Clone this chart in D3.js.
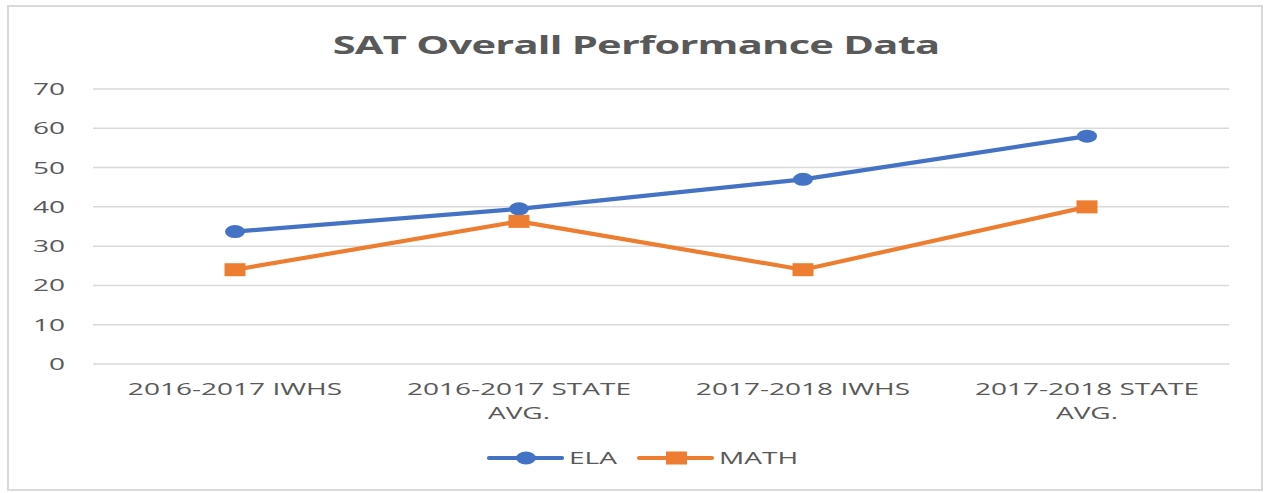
<!DOCTYPE html>
<html>
<head>
<meta charset="utf-8">
<script src="https://cdn.jsdelivr.net/npm/d3@7"></script>
<style>
  html, body { margin: 0; padding: 0; background: #fff; }
  text { font-family: "Open Sans", "DejaVu Sans", sans-serif; fill: #595959; }
</style>
</head>
<body>
<div id="chart"></div>
<script>
// data
var categories = [["2016-2017 IWHS"], ["2016-2017 STATE", "AVG."], ["2017-2018 IWHS"], ["2017-2018 STATE", "AVG."]];
var ela = [33.7, 39.5, 47, 58];
var math = [24, 36.3, 24, 40];
var yTicks = [0, 10, 20, 30, 40, 50, 60, 70];
var seriesNames = ["ELA", "MATH"];
var colors = ["#4472C4", "#ED7D31"];

var width = 1268, height = 493;
var sx = 1.7; // the source picture is stretched sideways

var svg = d3.select("#chart").append("svg")
            .attr("width", width)
            .attr("height", height);

// outer frame
svg.append("rect")
   .attr("x", 8).attr("y", 6)
   .attr("width", 1254).attr("height", 484)
   .attr("fill", "#fff")
   .attr("stroke", "#d9d9d9")
   .attr("stroke-width", 2);

var keys = categories.map(function(d) { return d.join(" "); });

var xScale = d3.scalePoint()
               .domain(keys)
               .range([93, 1229])
               .padding(0.5);

var yScale = d3.scaleLinear()
               .domain([0, 70])
               .range([364, 89]);

// stretched text helper
function stext(g, x, y, str, size, anchor, weight) {
  return g.append("text")
          .attr("transform", "translate(" + x + "," + y + ") scale(" + sx + ",1)")
          .attr("text-anchor", anchor)
          .style("font-size", size + "px")
          .style("font-weight", weight || "normal")
          .text(str);
}

// title
stext(svg, 636, 54, "SAT Overall Performance Data", 24.5, "middle", "bold")
  .style("letter-spacing", "-0.45px");

// gridlines
svg.append("g").selectAll("line")
   .data(yTicks)
   .enter()
   .append("line")
   .attr("x1", 93).attr("x2", 1229)
   .attr("y1", function(d) { return yScale(d); })
   .attr("y2", function(d) { return yScale(d); })
   .attr("stroke", "#d9d9d9")
   .attr("stroke-width", 1.5);

// y labels
var yl = svg.append("g");
yTicks.forEach(function(t) {
  stext(yl, 65, yScale(t) + 6, t, 16.5, "end");
});

// x labels
var xl = svg.append("g");
categories.forEach(function(lines, i) {
  lines.forEach(function(s, j) {
    stext(xl, xScale(keys[i]), 395 + j * 24, s, 16.5, "middle");
  });
});

var line = d3.line()
             .x(function(d, i) { return xScale(keys[i]); })
             .y(function(d) { return yScale(d); });

[ela, math].forEach(function(vals, k) {
  var g = svg.append("g");
  g.append("path")
   .datum(vals)
   .attr("d", line)
   .attr("fill", "none")
   .attr("stroke", colors[k])
   .attr("stroke-width", 4.2)
   .attr("stroke-linejoin", "round")
   .attr("stroke-linecap", "round");
  if (k === 0) {
    g.selectAll("ellipse").data(vals).enter().append("ellipse")
     .attr("cx", function(d, i) { return xScale(keys[i]); })
     .attr("cy", function(d) { return yScale(d); })
     .attr("rx", 10).attr("ry", 6.5)
     .attr("fill", colors[k]);
  } else {
    g.selectAll("rect").data(vals).enter().append("rect")
     .attr("x", function(d, i) { return xScale(keys[i]) - 10.5; })
     .attr("y", function(d) { return yScale(d) - 6.5; })
     .attr("width", 21).attr("height", 13)
     .attr("fill", colors[k]);
  }
});

// legend
var legend = svg.append("g");
var legX = [489, 639], legY = 458;
seriesNames.forEach(function(name, k) {
  var x0 = legX[k];
  legend.append("line")
        .attr("x1", x0).attr("x2", x0 + 73)
        .attr("y1", legY).attr("y2", legY)
        .attr("stroke", colors[k])
        .attr("stroke-width", 4.2)
        .attr("stroke-linecap", "round");
  if (k === 0) {
    legend.append("ellipse")
          .attr("cx", x0 + 37).attr("cy", legY)
          .attr("rx", 10).attr("ry", 6.5)
          .attr("fill", colors[k]);
  } else {
    legend.append("rect")
          .attr("x", x0 + 27).attr("y", legY - 6.5)
          .attr("width", 21).attr("height", 13)
          .attr("fill", colors[k]);
  }
  stext(legend, x0 + 80, legY + 6, name, 16.5, "start");
});
</script>
</body>
</html>
